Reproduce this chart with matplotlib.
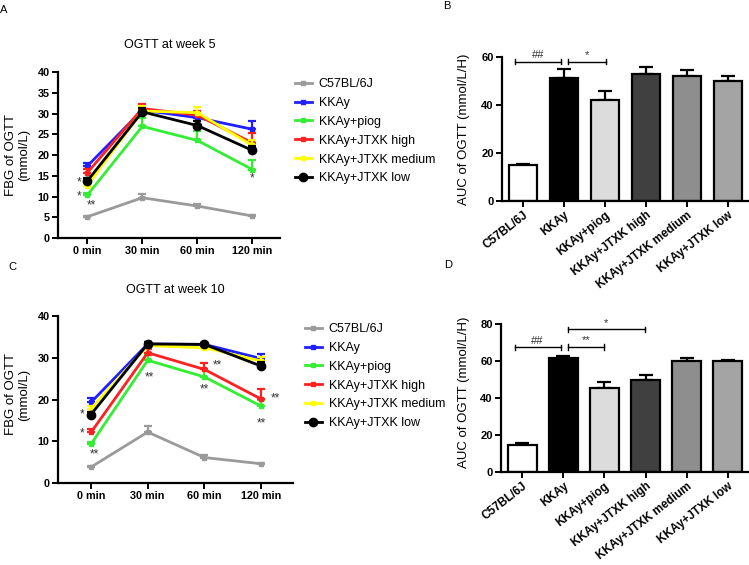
import matplotlib
matplotlib.use("Agg")
import matplotlib.pyplot as plt
import numpy as np

plt.rcParams['font.family'] = ['Liberation Sans', 'DejaVu Sans']

# données
times = ['0 min', '30 min', '60 min', '120 min']
groups = ['C57BL/6J', 'KKAy', 'KKAy+piog', 'KKAy+JTXK high', 'KKAy+JTXK medium', 'KKAy+JTXK low']
line_colors = ['#9a9a9a', '#2020ff', '#33ee33', '#ff2020', '#ffff00', '#000000']
bar_colors = ['white', 'black', '#dcdcdc', '#404040', '#8e8e8e', '#a4a4a4']

w5_mean = [[5.1, 9.7, 7.7, 5.3],
           [17.3, 30.8, 29.0, 26.2],
           [10.3, 26.9, 23.5, 16.5],
           [15.7, 31.2, 29.6, 22.9],
           [12.6, 30.6, 30.2, 22.3],
           [13.7, 30.4, 27.1, 21.1]]
w5_err = [[0.3, 0.9, 0.6, 0.3],
          [0.7, 1.0, 0.9, 2.0],
          [0.6, 2.1, 2.2, 2.2],
          [0.9, 1.0, 1.0, 2.4],
          [0.8, 1.2, 1.4, 1.4],
          [0.7, 1.0, 1.2, 1.1]]

w10_mean = [[3.8, 12.2, 6.1, 4.6],
            [19.3, 33.3, 33.2, 29.8],
            [9.3, 29.4, 25.4, 18.4],
            [12.1, 31.2, 27.2, 20.1],
            [17.8, 32.9, 32.4, 29.2],
            [16.4, 33.3, 33.2, 28.0]]
w10_err = [[0.3, 1.4, 0.6, 0.3],
           [1.0, 0.5, 0.4, 1.2],
           [0.6, 1.2, 2.0, 1.5],
           [0.8, 1.0, 1.6, 2.5],
           [0.7, 0.6, 0.6, 1.0],
           [0.6, 0.5, 0.4, 0.9]]

auc5 = [14.9, 51.4, 42.2, 52.8, 51.9, 50.1]
auc5_err = [0.7, 3.5, 3.6, 3.0, 2.6, 1.8]
auc10 = [14.4, 61.6, 45.4, 49.5, 60.2, 60.2]
auc10_err = [1.2, 0.9, 3.2, 2.8, 1.2, 0.6]

# étoiles : (position x, valeur y, texte)
w5_stars = [(-0.15, 13.3, '*'), (-0.15, 10.0, '*'), (0.08, 7.9, '**'), (3.0, 14.3, '*')]
w10_stars = [(-0.16, 16.4, '*'), (-0.16, 11.8, '*'), (0.06, 6.8, '**'), (1.03, 25.3, '**'),
             (2.22, 28.2, '**'), (2.0, 22.4, '**'), (3.25, 20.2, '**'), (3.0, 14.2, '**')]
# crochets : (gauche, droite, hauteur, texte)
auc5_brackets = [(-0.19, 0.93, 58.0, '##'), (1.1, 2.03, 58.0, '*')]
auc10_brackets = [(-0.19, 0.93, 67.4, '##'), (1.12, 2.0, 67.6, '**'), (1.1, 2.98, 77.1, '*')]

W, H = 749, 565
fig = plt.figure(figsize=(W / 100, H / 100), dpi=100)


def box(l, t, r, b):
    return [l / W, 1 - b / H, (r - l) / W, (b - t) / H]


def style(ax, size):
    for s in ['top', 'right']:
        ax.spines[s].set_visible(False)
    for s in ['left', 'bottom']:
        ax.spines[s].set_linewidth(1.6)
    ax.tick_params(width=1.4, length=4, labelsize=size, pad=2)
    for lab in ax.get_xticklabels() + ax.get_yticklabels():
        lab.set_fontweight('bold')


def ogtt(ax, means, errs, stars, xlim, ylim, yticks):
    x = np.arange(len(times))
    for g, c, m, e in zip(groups, line_colors, means, errs):
        ax.errorbar(x, m, yerr=[np.zeros(len(e)), e], fmt='none', ecolor=c,
                    elinewidth=1.6, capsize=3, capthick=1.6)
        if c == '#000000':
            ax.plot(x, m, color=c, lw=2, marker='o', ms=6, label=g)
        else:
            ax.plot(x, m, color=c, lw=2, marker='s', ms=3, label=g)
    for sx, sy, t in stars:
        ax.text(sx, sy, t, ha='center', va='center', fontsize=8.5, color='#333333')
    ax.set_xlim(*xlim)
    ax.set_ylim(*ylim)
    ax.set_xticks(x)
    ax.set_xticklabels(times)
    ax.set_yticks(yticks)
    ax.set_ylabel('FBG of OGTT\n(mmol/L)', fontsize=9.5, linespacing=1.1)
    style(ax, 7.8)


def auc(ax, vals, errs, brackets, ymax, yticks, bh):
    x = np.arange(len(groups))
    ax.bar(x, vals, width=0.69, color=bar_colors, edgecolor='black', linewidth=1.6, zorder=2)
    ax.errorbar(x, vals, yerr=[np.zeros(len(errs)), errs], fmt='none', ecolor='black',
                elinewidth=1.6, capsize=5, capthick=1.6, zorder=1)
    for l, r, y, t in brackets:
        ax.plot([l, r], [y, y], color='black', lw=1.0)
        ax.plot([l, l], [y - bh, y + bh], color='black', lw=1.0)
        ax.plot([r, r], [y - bh, y + bh], color='black', lw=1.0)
        ax.text((l + r) / 2, y + bh * 0.6, t, ha='center', va='bottom', fontsize=8, color='#333333')
    ax.set_xlim(-0.52, 5.52)
    ax.set_ylim(0, ymax)
    ax.set_yticks(yticks)
    ax.set_xticks(x)
    ax.set_xticklabels(groups, rotation=38, ha='right', rotation_mode='anchor')
    ax.set_ylabel('AUC of OGTT (mmol/L/H)', fontsize=9.5)
    style(ax, 8)
    for lab in ax.get_xticklabels():
        lab.set_fontsize(8.5)


axA = fig.add_axes(box(58, 72, 280, 238))
ogtt(axA, w5_mean, w5_err, w5_stars, (-0.53, 3.5), (0, 40), range(0, 41, 5))
axA.yaxis.set_label_coords(-0.125, 0.5)

axC = fig.add_axes(box(58, 316, 293, 483))
ogtt(axC, w10_mean, w10_err, w10_stars, (-0.58, 3.56), (0, 40), range(0, 41, 10))
axC.yaxis.set_label_coords(-0.12, 0.53)

axB = fig.add_axes(box(502, 57, 749, 201))
auc(axB, auc5, auc5_err, auc5_brackets, 60, [0, 20, 40, 60], 1.1)
axB.yaxis.set_label_coords(-0.13, 0.5)

axD = fig.add_axes(box(501, 324, 749, 472))
auc(axD, auc10, auc10_err, auc10_brackets, 80, [0, 20, 40, 60, 80], 1.5)
axD.yaxis.set_label_coords(-0.125, 0.54)

leg_kw = dict(bbox_transform=fig.transFigure, loc='upper left', frameon=False, fontsize=9,
              handlelength=1.35, handletextpad=0.55, labelspacing=0.55,
              borderpad=0, borderaxespad=0)
axA.legend(bbox_to_anchor=(295 / W, 1 - 78 / H), **leg_kw)
axC.legend(bbox_to_anchor=(305 / W, 1 - 323 / H), **leg_kw)

fig.text(170 / W, 1 - 45 / H, 'OGTT at week 5', ha='center', va='center', fontsize=9)
fig.text(175 / W, 1 - 290 / H, 'OGTT at week 10', ha='center', va='center', fontsize=9)

for lab, px, py in [('A', 4, 10), ('B', 447, 6), ('C', 12, 267), ('D', 448, 265)]:
    fig.text(px / W, 1 - py / H, lab, ha='center', va='center', fontsize=8)

fig.savefig('out.png', dpi=100)
